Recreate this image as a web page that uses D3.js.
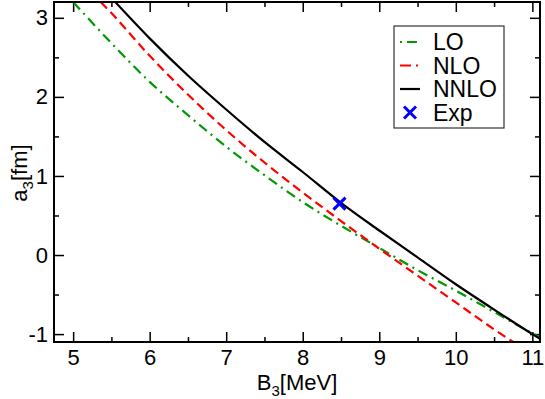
<!DOCTYPE html>
<meta charset="utf-8">
<style>
body { margin: 0; background: #fff; }
text { font-family: "Liberation Sans", Arial, sans-serif; }
.axis path { display: none; }
.axis line { stroke: #000; stroke-width: 1.5; }
.axis text { font-size: 22px; fill: #000; }
</style>
<body>
<script src="https://d3js.org/d3.v7.min.js"></script>
<script>
// B3 [MeV] vs a3 [fm]
var loB3   = [5.0, 5.5, 6.0, 6.5, 7.0, 7.5, 8.0, 8.5, 9.0, 9.5, 10.0, 10.5, 11.0, 11.1];
var loA3   = [3.2, 2.68, 2.19, 1.77, 1.37, 1.01, 0.67, 0.37, 0.09, -0.19, -0.45, -0.72, -0.99, -1.04];

var nloB3  = [5.36, 5.5, 6.0, 6.5, 7.0, 7.5, 8.0, 8.5, 9.0, 9.5, 10.0, 10.5, 10.75];
var nloA3  = [3.2, 3.06, 2.52, 2.03, 1.58, 1.17, 0.79, 0.43, 0.08, -0.26, -0.6, -0.94, -1.1];

var nnloB3 = [5.55, 6.0, 6.5, 7.0, 7.5, 8.0, 8.5, 9.0, 9.5, 10.0, 10.5, 11.0, 11.1];
var nnloA3 = [3.2, 2.74, 2.27, 1.84, 1.43, 1.05, 0.66, 0.31, -0.03, -0.37, -0.69, -1.0, -1.06];

var expB3 = 8.48, expA3 = 0.65;

var xTicks = [5, 6, 7, 8, 9, 10, 11];
var yTicks = [-1, 0, 1, 2, 3];
var xMinor = [5.5, 6.5, 7.5, 8.5, 9.5, 10.5];
var yMinor = [-0.5, 0.5, 1.5, 2.5];

var margin = {top: 2, right: 5, bottom: 57, left: 54},
    width = 545 - margin.left - margin.right,
    height = 399 - margin.top - margin.bottom;

var x = d3.scaleLinear().domain([4.75, 11.1]).range([0, width]);
var y = d3.scaleLinear().domain([-1.1, 3.2]).range([height, 0]);

var svg = d3.select("body").append("svg")
    .attr("width", 545)
    .attr("height", 399);

var g = svg.append("g")
    .attr("transform", "translate(" + margin.left + "," + margin.top + ")");

g.append("clipPath").attr("id", "clip")
  .append("rect").attr("width", width).attr("height", height);

// ticks, inward on all four sides
g.append("g").attr("class", "axis")
    .attr("transform", "translate(0," + height + ")")
    .call(d3.axisBottom(x).tickValues(xTicks).tickSize(-10).tickPadding(7).tickFormat(d => String(d)));
g.append("g").attr("class", "axis")
    .attr("transform", "translate(0," + height + ")")
    .call(d3.axisBottom(x).tickValues(xMinor).tickSize(-5).tickFormat(""));
g.append("g").attr("class", "axis")
    .call(d3.axisTop(x).tickValues(xTicks).tickSize(-10).tickFormat(""));
g.append("g").attr("class", "axis")
    .call(d3.axisTop(x).tickValues(xMinor).tickSize(-5).tickFormat(""));

g.append("g").attr("class", "axis")
    .call(d3.axisLeft(y).tickValues(yTicks).tickSize(-10).tickPadding(6).tickFormat(d => String(d)));
g.append("g").attr("class", "axis")
    .call(d3.axisLeft(y).tickValues(yMinor).tickSize(-5).tickFormat(""));
g.append("g").attr("class", "axis")
    .attr("transform", "translate(" + width + ",0)")
    .call(d3.axisRight(y).tickValues(yTicks).tickSize(-10).tickFormat(""));
g.append("g").attr("class", "axis")
    .attr("transform", "translate(" + width + ",0)")
    .call(d3.axisRight(y).tickValues(yMinor).tickSize(-5).tickFormat(""));

// curves
var line = d3.line().x(d => x(d[0])).y(d => y(d[1])).curve(d3.curveMonotoneX);
var series = [
  {name: "LO",   xs: loB3,   ys: loA3,   color: "#009900", dash: "10,5,2,5"},
  {name: "NLO",  xs: nloB3,  ys: nloA3,  color: "#ff0000", dash: "9,5"},
  {name: "NNLO", xs: nnloB3, ys: nnloA3, color: "#000000", dash: null}
];

var curves = g.append("g").attr("clip-path", "url(#clip)");
series.forEach(function(s) {
  curves.append("path")
      .datum(s.xs.map((v, i) => [v, s.ys[i]]))
      .attr("d", line)
      .attr("fill", "none")
      .attr("stroke", s.color)
      .attr("stroke-width", 2.2)
      .attr("stroke-dasharray", s.dash);
});

// experimental point
function cross(sel, cx, cy, r) {
  sel.append("path")
      .attr("d", "M" + (cx - r) + "," + (cy - r) + "L" + (cx + r) + "," + (cy + r) +
                 "M" + (cx - r) + "," + (cy + r) + "L" + (cx + r) + "," + (cy - r))
      .attr("stroke", "#0000ff")
      .attr("stroke-width", 3)
      .attr("fill", "none");
}
cross(g, x(expB3), y(expA3), 6);

// frame
g.append("rect")
    .attr("width", width).attr("height", height)
    .attr("fill", "none").attr("stroke", "#000").attr("stroke-width", 2);

// legend
var legend = svg.append("g").attr("transform", "translate(394,26)");
legend.append("rect")
    .attr("width", 110).attr("height", 102)
    .attr("fill", "#fff").attr("stroke", "#333").attr("stroke-width", 1.2);

var rows = series.concat([{name: "Exp"}]);
rows.forEach(function(s, i) {
  var cy = 16 + i * 23.5;
  if (s.xs) {
    legend.append("line")
        .attr("x1", 6).attr("x2", 26).attr("y1", cy).attr("y2", cy)
        .attr("stroke", s.color).attr("stroke-width", 2.2)
        .attr("stroke-dasharray", s.name === "LO" ? "2,5,10,5" : (s.name === "NLO" ? "11,5,2,5" : null));
  } else {
    cross(legend, 16, cy, 6);
  }
  legend.append("text")
      .attr("x", 39).attr("y", cy + 8)
      .style("font-size", "23px")
      .text(s.name);
});

// axis titles
var xt = svg.append("text")
    .attr("x", 297).attr("y", 390)
    .attr("text-anchor", "middle")
    .style("font-size", "22px");
xt.append("tspan").text("B");
xt.append("tspan").attr("dy", 6).style("font-size", "15px").text("3");
xt.append("tspan").attr("dy", -6).text("[MeV]");

var yt = svg.append("text")
    .attr("transform", "translate(27,173) rotate(-90)")
    .attr("text-anchor", "middle")
    .style("font-size", "22px");
yt.append("tspan").text("a");
yt.append("tspan").attr("dy", 6).style("font-size", "15px").text("3");
yt.append("tspan").attr("dy", -6).text("[fm]");
</script>
